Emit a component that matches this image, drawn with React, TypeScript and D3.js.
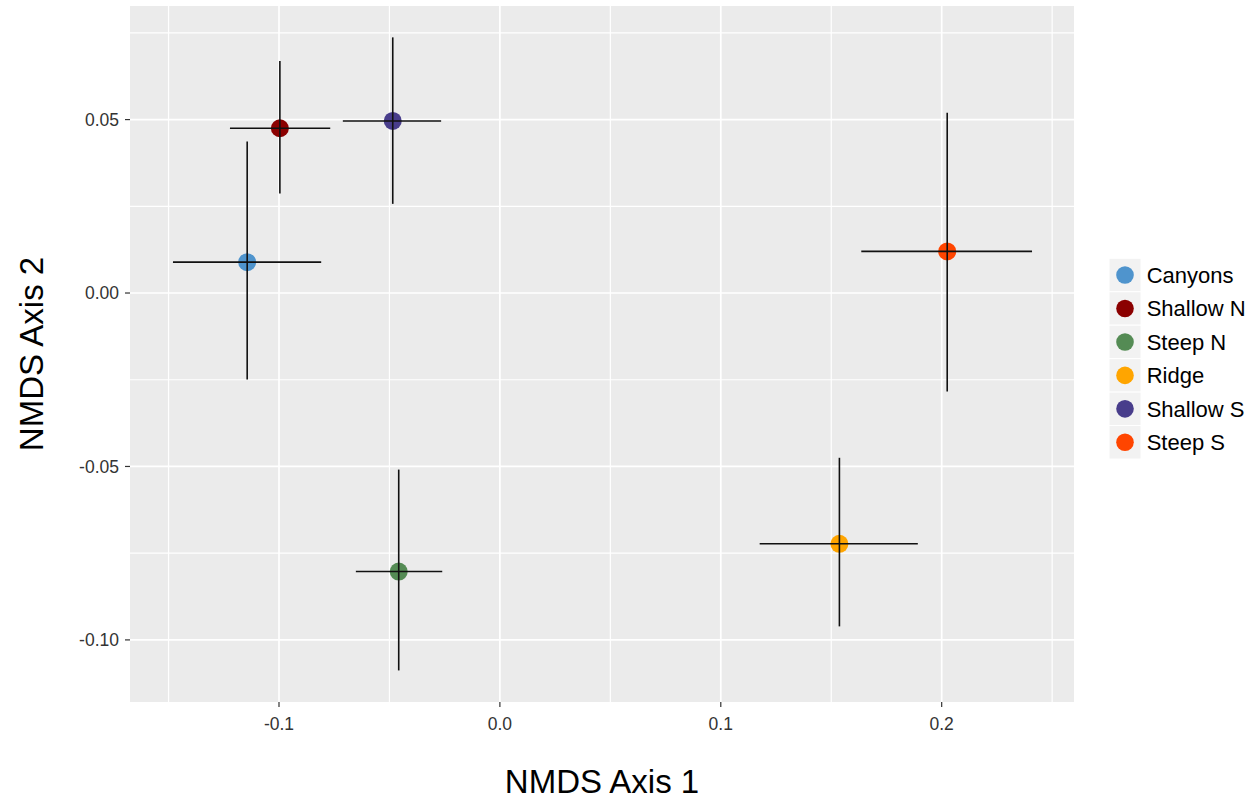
import React from "react";
import * as d3 from "d3";

const groups = ["Canyons", "Shallow N", "Steep N", "Ridge", "Shallow S", "Steep S"];
const colors = ["#4F94CD", "#8B0000", "#548B54", "#FFA500", "#483D8B", "#FF4500"];
const xMean = [-0.1144, -0.0996, -0.0458, 0.1537, -0.0485, 0.2025];
const yMean = [0.0089, 0.0475, -0.0803, -0.0723, 0.0496, 0.012];
const xLow = [-0.148, -0.1222, -0.0652, 0.1176, -0.0711, 0.1636];
const xHigh = [-0.0809, -0.0768, -0.0261, 0.1892, -0.0266, 0.2409];
const yLow = [-0.0249, 0.0287, -0.1088, -0.0961, 0.0257, -0.0284];
const yHigh = [0.0437, 0.0669, -0.0509, -0.0475, 0.0737, 0.052];

const xTicks = [-0.1, 0.0, 0.1, 0.2];
const xTickLabels = ["-0.1", "0.0", "0.1", "0.2"];
const xMinor = [-0.15, -0.05, 0.05, 0.15, 0.25];
const yTicks = [0.05, 0.0, -0.05, -0.1];
const yTickLabels = ["0.05", "0.00", "-0.05", "-0.10"];
const yMinor = [0.075, 0.025, -0.025, -0.075];

const xTitle = "NMDS Axis 1";
const yTitle = "NMDS Axis 2";

export default function App() {
  const W = 1260, H = 801;
  const panel = { left: 130, right: 1074, top: 6, bottom: 702 };
  const x = d3.scaleLinear().domain([-0.16745, 0.2599]).range([panel.left, panel.right]);
  const y = d3.scaleLinear().domain([-0.1179, 0.08274]).range([panel.bottom, panel.top]);
  const font = "'Liberation Sans', Arial, sans-serif";
  const keyX = 1109, keyW = 32, keyTop = 258.3, keyH = 33.45;

  return (
    <svg width={W} height={H} style={{ position: "absolute", left: 0, top: 0, background: "#fff" }} fontFamily={font}>
      <rect x={panel.left} y={panel.top} width={panel.right - panel.left} height={panel.bottom - panel.top} fill="#EBEBEB" />
      {xMinor.map((v, i) => (
        <line key={"xm" + i} x1={x(v)} x2={x(v)} y1={panel.top} y2={panel.bottom} stroke="#fff" strokeWidth={1.2} />
      ))}
      {yMinor.map((v, i) => (
        <line key={"ym" + i} y1={y(v)} y2={y(v)} x1={panel.left} x2={panel.right} stroke="#fff" strokeWidth={1.2} />
      ))}
      {xTicks.map((v, i) => (
        <line key={"xM" + i} x1={x(v)} x2={x(v)} y1={panel.top} y2={panel.bottom} stroke="#fff" strokeWidth={1.7} />
      ))}
      {yTicks.map((v, i) => (
        <line key={"yM" + i} y1={y(v)} y2={y(v)} x1={panel.left} x2={panel.right} stroke="#fff" strokeWidth={1.7} />
      ))}
      {groups.map((g, i) => (
        <circle key={"p" + i} cx={x(xMean[i])} cy={y(yMean[i])} r={9} fill={colors[i]} />
      ))}
      {groups.map((g, i) => (
        <g key={"e" + i} stroke="#111" strokeWidth={1.6}>
          <line x1={x(xLow[i])} x2={x(xHigh[i])} y1={y(yMean[i])} y2={y(yMean[i])} />
          <line x1={x(xMean[i])} x2={x(xMean[i])} y1={y(yLow[i])} y2={y(yHigh[i])} />
        </g>
      ))}
      {xTicks.map((v, i) => (
        <g key={"xt" + i}>
          <line x1={x(v)} x2={x(v)} y1={panel.bottom} y2={panel.bottom + 5} stroke="#333" strokeWidth={1.2} />
          <text x={x(v)} y={730} textAnchor="middle" fontSize={17.5} fill="#333">{xTickLabels[i]}</text>
        </g>
      ))}
      {yTicks.map((v, i) => (
        <g key={"yt" + i}>
          <line x1={panel.left - 5} x2={panel.left} y1={y(v)} y2={y(v)} stroke="#333" strokeWidth={1.2} />
          <text x={119} y={y(v)} dy="0.35em" textAnchor="end" fontSize={17.5} fill="#333">{yTickLabels[i]}</text>
        </g>
      ))}
      <text x={(panel.left + panel.right) / 2} y={793} textAnchor="middle" fontSize={33} fill="#000">{xTitle}</text>
      <text transform={`translate(43, ${(panel.top + panel.bottom) / 2}) rotate(-90)`} textAnchor="middle" fontSize={33} fill="#000">{yTitle}</text>
      {groups.map((g, i) => {
        const ky = keyTop + i * keyH;
        return (
          <g key={"l" + i}>
            <rect x={keyX} y={ky} width={keyW} height={keyH} fill="#F2F2F2" stroke="#fff" strokeWidth={1} />
            <circle cx={keyX + keyW / 2} cy={ky + keyH / 2} r={8.8} fill={colors[i]} />
            <text x={1146.7} y={ky + keyH / 2} dy="0.35em" fontSize={22} fill="#000">{g}</text>
          </g>
        );
      })}
    </svg>
  );
}
